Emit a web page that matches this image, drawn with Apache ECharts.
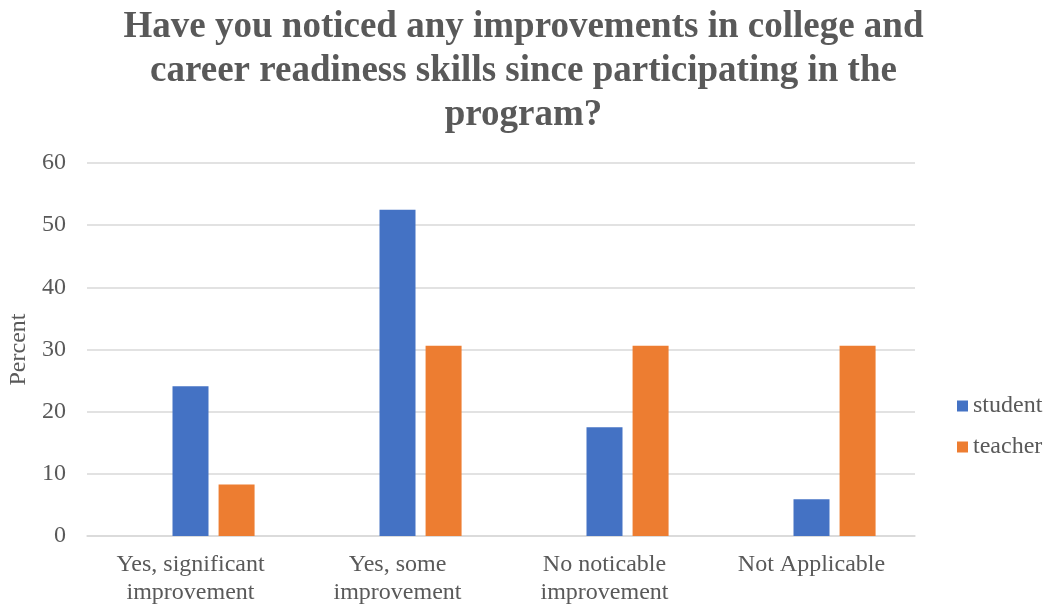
<!DOCTYPE html>
<html>
<head>
<meta charset="utf-8">
<script src="https://cdn.jsdelivr.net/npm/echarts@6/dist/echarts.min.js"></script>
<style>
  html, body { margin: 0; padding: 0; background: #fff; }
  #chart { width: 1047px; height: 604px; }
</style>
</head>
<body>
<div id="chart"></div>
<script>
// Survey responses (percent) by group
const categories = [
  'Yes, significant\nimprovement',
  'Yes, some\nimprovement',
  'No noticable\nimprovement',
  'Not Applicable'
];
const studentValues = [24.1, 52.5, 17.5, 5.9];
const teacherValues = [8.3, 30.6, 30.6, 30.6];
// empty leading slot in each category group
const blankValues = [null, null, null, null];
const yTicks = { min: 0, max: 60, interval: 10 };

const textColor = '#595959';
const serif = '"Liberation Serif", "Times New Roman", serif';

const chart = echarts.init(document.getElementById('chart'), null, { renderer: 'canvas' });
chart.setOption({
  animation: false,
  title: {
    text: 'Have you noticed any improvements in college and\ncareer readiness skills since participating in the\nprogram?',
    left: 'center',
    top: 0,
    padding: [5, 0, 0, 0],
    textStyle: {
      fontFamily: serif,
      fontWeight: 'bold',
      fontSize: 37,
      lineHeight: 44,
      color: textColor
    }
  },
  legend: {
    orient: 'vertical',
    left: 957,
    top: 394,
    padding: 0,
    itemWidth: 11,
    itemHeight: 11,
    itemGap: 17,
    data: ['student', 'teacher'],
    textStyle: { fontFamily: serif, fontSize: 24, color: textColor },
    icon: 'rect'
  },
  grid: {
    left: 87, right: 132, top: 163, bottom: 68,
    containLabel: false,
    outerBoundsMode: 'none'
  },
  xAxis: {
    type: 'category',
    data: categories,
    axisLine: { lineStyle: { color: '#d9d9d9', width: 1.5 } },
    axisTick: { show: false },
    axisLabel: {
      fontFamily: serif,
      fontSize: 24,
      lineHeight: 28,
      color: textColor,
      margin: 15,
      interval: 0
    }
  },
  yAxis: {
    type: 'value',
    min: yTicks.min,
    max: yTicks.max,
    interval: yTicks.interval,
    name: 'Percent',
    nameLocation: 'middle',
    nameGap: 56,
    nameRotate: 90,
    nameTextStyle: { fontFamily: serif, fontSize: 24, color: textColor },
    axisLine: { show: false },
    axisTick: { show: false },
    axisLabel: { fontFamily: serif, fontSize: 24, color: textColor, margin: 21 },
    splitLine: { lineStyle: { color: '#d9d9d9', width: 1.5 } }
  },
  series: [
    { name: '', type: 'bar', data: blankValues, barWidth: 36, barGap: '28%' },
    { name: 'student', type: 'bar', data: studentValues, barWidth: 36, barGap: '28%',
      itemStyle: { color: '#4472C4' } },
    { name: 'teacher', type: 'bar', data: teacherValues, barWidth: 36, barGap: '28%',
      itemStyle: { color: '#ED7D31' } }
  ]
});
</script>
</body>
</html>
